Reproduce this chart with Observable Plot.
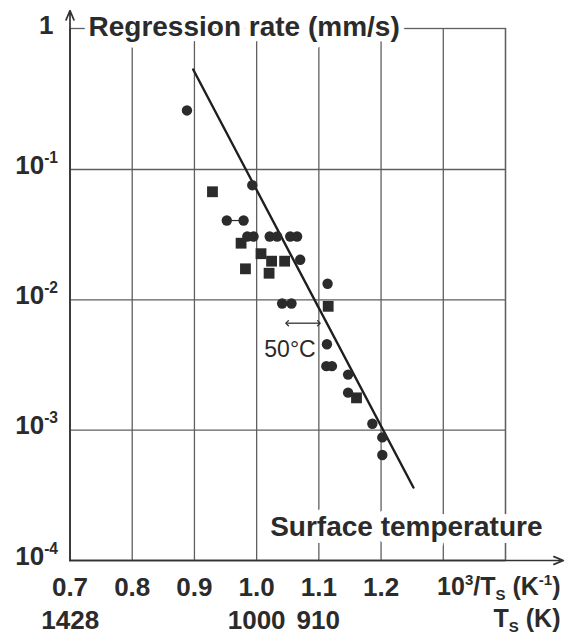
<!DOCTYPE html>
<html>
<head>
<meta charset="utf-8">
<script src="https://cdn.jsdelivr.net/npm/d3@7"></script>
<script src="https://cdn.jsdelivr.net/npm/@observablehq/plot@0.6"></script>
<style>
  html, body { margin: 0; padding: 0; background: #fff; }
  #chart { width: 565px; height: 637px; }
</style>
</head>
<body>
<div id="chart"></div>
<script>
// ---------- data ----------
// x: 10^3/Ts (1/K), y: regression rate (mm/s)
const circles = [
  [0.888, 0.284], [0.993, 0.0758], [0.952, 0.0406], [0.979, 0.0406],
  [0.985, 0.0306], [0.995, 0.0306], [1.021, 0.0306], [1.033, 0.0306],
  [1.054, 0.0306], [1.065, 0.0306], [1.070, 0.0203], [1.114, 0.0133],
  [1.041, 0.00937], [1.056, 0.00937], [1.113, 0.00456], [1.112, 0.00310],
  [1.121, 0.00310], [1.147, 0.00267], [1.147, 0.00194], [1.186, 0.00112],
  [1.202, 0.00088], [1.202, 0.000645]
];
const squares = [
  [0.929, 0.0675], [0.975, 0.0272], [1.007, 0.0226], [1.024, 0.0198],
  [1.045, 0.0198], [0.982, 0.0173], [1.020, 0.0160], [1.115, 0.00892],
  [1.1605, 0.00177]
];
const connectors = [[0.952, 0.979, 0.0406]];          // x1, x2, y
const fitLine = [[0.898, 0.585], [1.252, 0.000363]];
const spanArrow = [[1.049, 1.100, 0.00662]];           // x1, x2, y  ("50°C")
const spanLabel = "50°C";

const xTicks = [0.7, 0.8, 0.9, 1.0, 1.1, 1.2, 1.3, 1.4];
const xTickLabels = [0.7, 0.8, 0.9, 1.0, 1.1, 1.2];
const tempLabels = [1428, 1000, 910];                  // Ts (K), placed at 1000/Ts
const yDecades = [1e-4, 1e-3, 1e-2, 1e-1];
const yDecadeLabels = ["10^{-4}", "10^{-3}", "10^{-2}", "10^{-1}"];
const yTopLabel = "1";
const titleText = "Regression rate (mm/s)";
const xAxisLabel = "10^{3}/T_{S} (K^{-1})";
const tAxisLabel = "T_{S} (K)";
const surfaceLabel = "Surface temperature";

// ---------- scales ----------
const xDomain = [0.7, 1.4];
const yTop = Math.pow(10, 0.082);
const yDomain = [1e-4, yTop];
const xArrowEnd = 1.493;
const yArrowEnd = Math.pow(10, 0.22);

const ink = "#2b2b2b";
const gridInk = "#5f5f5f";
const font = "'Liberation Sans', Arial, Helvetica, sans-serif";

const chart = Plot.plot({
  width: 565,
  height: 637,
  marginLeft: 69.5,
  marginRight: 60,
  marginTop: 28,
  marginBottom: 77,
  style: {fontFamily: font, background: "#fff", color: ink, overflow: "visible"},
  x: {type: "linear", domain: xDomain, axis: null},
  y: {type: "log", domain: yDomain, axis: null},
  marks: [
    Plot.frame({stroke: gridInk, strokeWidth: 1.3}),
    Plot.ruleX(xTicks, {x: d => d, stroke: gridInk, strokeWidth: 1.3}),
    Plot.ruleY(yDecades, {y: d => d, x1: xDomain[0], x2: xDomain[1], stroke: gridInk, strokeWidth: 1.3}),
    // title & annotation with white halo that interrupts the grid
    Plot.text([titleText], {
      x: xDomain[0], y: yTop, text: d => d, dx: 18.5, dy: 7,
      textAnchor: "start", lineAnchor: "bottom", fontSize: 28, fontWeight: "bold",
      fill: ink, stroke: "white", strokeWidth: 11, strokeLinejoin: "round", paintOrder: "stroke"
    }),
    Plot.text([surfaceLabel], {
      frameAnchor: "bottom-right", text: d => d, dx: 37, dy: -25,
      textAnchor: "end", lineAnchor: "bottom", fontSize: 28, fontWeight: "bold",
      fill: ink, stroke: "white", strokeWidth: 14, strokeLinejoin: "round", paintOrder: "stroke"
    }),
    // axes with arrowheads
    Plot.arrow([0], {x1: xDomain[0], x2: xDomain[0], y1: yDomain[0], y2: yArrowEnd,
      stroke: "#333", strokeWidth: 1.7, headLength: 9, headAngle: 45}),
    Plot.arrow([0], {x1: xDomain[0], x2: xArrowEnd, y1: yDomain[0], y2: yDomain[0],
      stroke: "#333", strokeWidth: 1.7, headLength: 9, headAngle: 45}),
    // fit line
    Plot.line(fitLine, {x: d => d[0], y: d => d[1], stroke: "#1f1f1f", strokeWidth: 2.4}),
    // connector
    Plot.ruleY(connectors, {x1: d => d[0], x2: d => d[1], y: d => d[2], stroke: ink, strokeWidth: 1.2}),
    // data
    Plot.dot(circles, {x: d => d[0], y: d => d[1], r: 5.2, fill: ink, stroke: null}),
    Plot.dot(squares, {x: d => d[0], y: d => d[1], r: 6.1, symbol: "square", fill: ink, stroke: null}),
    // 50°C span
    Plot.link(spanArrow, {x1: d => d[0], x2: d => d[1], y1: d => d[2], y2: d => d[2],
      stroke: "#333", strokeWidth: 1.3, marker: "arrow-reverse"}),
    Plot.text(spanArrow, {x: d => (d[0] + d[1]) / 2, y: d => d[2], text: () => spanLabel,
      dx: -13, dy: 34, lineAnchor: "bottom", fontSize: 23, fill: ink}),
    // y tick labels
    Plot.text(yDecades, {x: xDomain[0], y: d => d, text: (d, i) => yDecadeLabels[i],
      dx: -12, dy: 4, textAnchor: "end", lineAnchor: "bottom", fontSize: 26, fontWeight: "bold", fill: ink}),
    Plot.text([yTopLabel], {x: xDomain[0], y: yTop, text: d => d,
      dx: -16.5, dy: 5, textAnchor: "end", lineAnchor: "bottom", fontSize: 26, fontWeight: "bold", fill: ink}),
    // x tick labels
    Plot.text(xTickLabels, {x: d => d, y: yDomain[0], text: d => d.toFixed(1),
      dy: 17, lineAnchor: "top", fontSize: 26, fontWeight: "bold", fill: ink}),
    Plot.text(tempLabels, {x: d => 1000 / d, y: yDomain[0], text: d => String(d),
      dy: 50, lineAnchor: "top", fontSize: 26, fontWeight: "bold", fill: ink}),
    Plot.text([xAxisLabel], {frameAnchor: "bottom-right", text: d => d, dx: 55, dy: 17,
      textAnchor: "end", lineAnchor: "top", fontSize: 25, fontWeight: "bold", fill: ink}),
    Plot.text([tAxisLabel], {frameAnchor: "bottom-right", text: d => d, dx: 55, dy: 49,
      textAnchor: "end", lineAnchor: "top", fontSize: 25, fontWeight: "bold", fill: ink})
  ]
});

document.getElementById("chart").appendChild(chart);

// turn ^{..} and _{..} into raised / lowered tspans
function richify(root) {
  const NS = "http://www.w3.org/2000/svg";
  root.querySelectorAll("text").forEach(t => {
    const s = t.textContent;
    if (!/[\^_]\{/.test(s)) return;
    const fs = parseFloat(getComputedStyle(t).fontSize) || 26;
    t.textContent = "";
    const re = /([\^_])\{([^}]*)\}/g;
    let last = 0, m, shift = 0;
    const add = (txt, kind) => {
      const ts = document.createElementNS(NS, "tspan");
      ts.textContent = txt;
      const target = kind === "^" ? -0.42 * fs : kind === "_" ? 0.2 * fs : 0;
      ts.setAttribute("dy", target - shift);
      shift = target;
      if (kind) ts.setAttribute("font-size", 0.6 * fs);
      t.appendChild(ts);
    };
    while ((m = re.exec(s))) {
      if (m.index > last) add(s.slice(last, m.index), null);
      add(m[2], m[1]);
      last = re.lastIndex;
    }
    if (last < s.length) add(s.slice(last), null);
  });
}
richify(chart);
</script>
</body>
</html>
